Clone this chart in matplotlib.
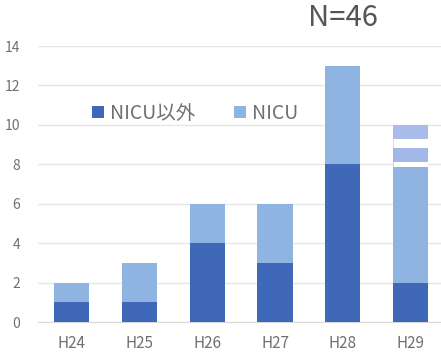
import matplotlib
matplotlib.use("Agg")
import matplotlib.pyplot as plt
import numpy as np

plt.rcParams['font.family'] = ['Noto Sans CJK JP', 'DejaVu Sans']

years = ["H24", "H25", "H26", "H27", "H28", "H29"]
non_nicu = [1, 1, 4, 3, 8, 2]
nicu = [1, 2, 2, 3, 5, 6]
# additional stacked cases for the latest year, shown as separate blocks
h29_extra = [1.1, 0.9]
y_ticks = [0, 2, 4, 6, 8, 10, 12, 14]
total_label = "N=46"

dark = "#4068b8"
light = "#8fb4e2"
extra_colors = ["#a3b8e6", "#a9bbe8"]
gap_widths = [3.6, 6.5]
text_gray = "#707070"

fig = plt.figure(figsize=(4.41, 3.58), dpi=100)
ax = fig.add_axes([38 / 441, 36 / 358, 403 / 441, 276 / 358])

x = np.arange(len(years))
w = 0.52
ax.bar(x, non_nicu, w, color=dark, label="NICU以外", zorder=3)
ax.bar(x, nicu, w, bottom=non_nicu, color=light, label="NICU", zorder=3)

# extra blocks on top of the last bar, separated by white gaps
base = non_nicu[-1] + nicu[-1]
bottoms = base + np.concatenate([[0], np.cumsum(h29_extra)[:-1]])
for b, h, c in zip(bottoms, h29_extra, extra_colors):
    ax.bar(x[-1], h, w, bottom=b, color=c, zorder=3)
for b, lw in zip(bottoms, gap_widths):
    ax.hlines(b, x[-1] - w / 2, x[-1] + w / 2, colors="white", linewidth=lw, zorder=4)

ax.set_xlim(-0.5, 5.45)
ax.set_ylim(0, 14)
ax.set_yticks(y_ticks)
ax.set_xticks(x)
ax.set_xticklabels(years)
ax.tick_params(axis="both", length=0, colors=text_gray)
ax.tick_params(axis="y", pad=13, labelsize=10)
ax.tick_params(axis="x", pad=9, labelsize=11)
ax.grid(axis="y", color="#e6e6e6", linewidth=1, zorder=0)
for s in ["top", "right", "left"]:
    ax.spines[s].set_visible(False)
ax.spines["bottom"].set_color("#d9d9d9")

leg = ax.legend(loc="center left", bbox_to_anchor=(0.135, 0.755), ncol=2, frameon=False,
                fontsize=14, handlelength=0.6, handleheight=0.6, columnspacing=2.0,
                handletextpad=0.3, borderpad=0, borderaxespad=0)
for t in leg.get_texts():
    t.set_color(text_gray)

fig.text(308 / 441, 1 - 18 / 358, total_label, fontsize=21, color="#555555",
         ha="left", va="center")

fig.savefig("out.png", dpi=100)
